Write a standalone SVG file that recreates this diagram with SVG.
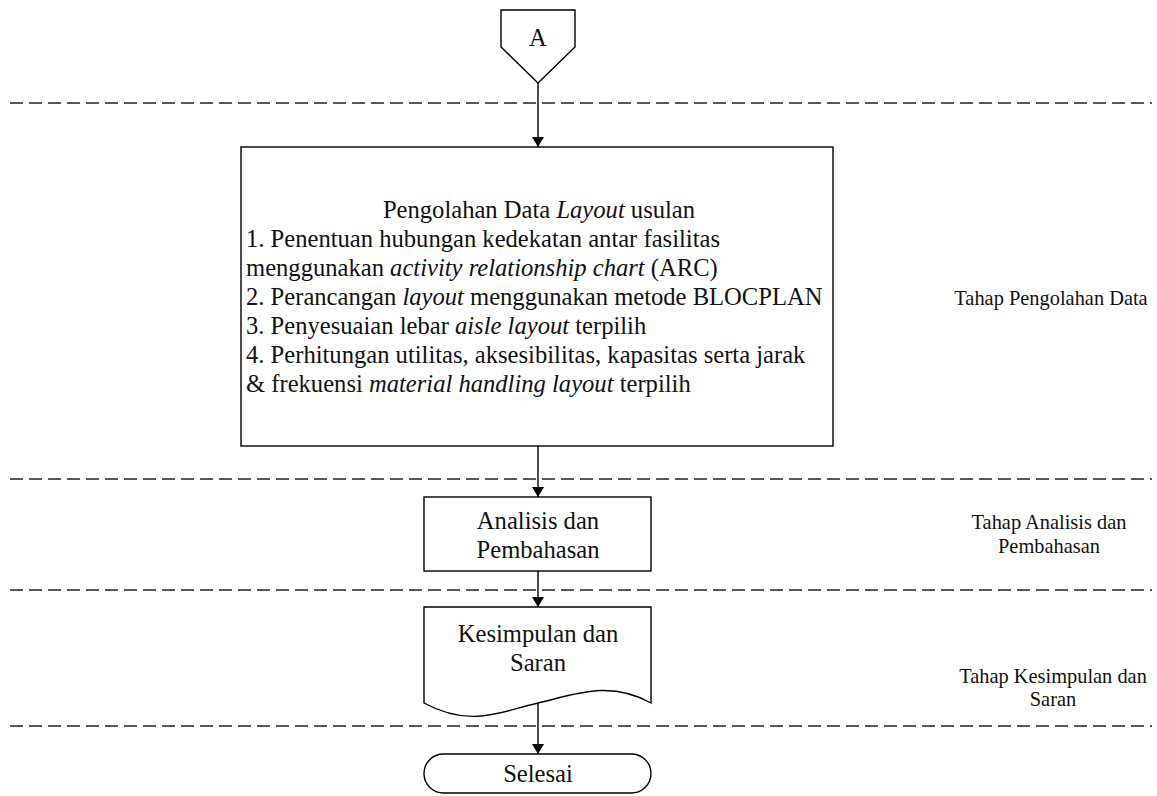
<svg xmlns="http://www.w3.org/2000/svg" width="1157" height="796" viewBox="0 0 1157 796">
<style>
  .shape { fill: #ffffff; stroke: #000000; stroke-width: 1.4; }
  .dash { stroke: #222222; stroke-width: 1.4; stroke-dasharray: 13 6; fill: none; }
  .conn { stroke: #000000; stroke-width: 1.4; fill: none; marker-end: url(#arrow); }
  text { font-family: "Liberation Serif", "Times New Roman", serif; fill: #111111; }
  .main { font-size: 24.6px; }
  .side { font-size: 20.4px; text-anchor: middle; }
  .mid { text-anchor: middle; }
  .it { font-style: italic; }
</style>
<defs>
  <marker id="arrow" viewBox="0 0 10 12" refX="10" refY="6" markerWidth="10" markerHeight="12" markerUnits="userSpaceOnUse" orient="auto">
    <path d="M0,0 L10,6 L0,12 Z" fill="#000000"/>
  </marker>
</defs>
<rect width="1157" height="796" fill="#ffffff"/>

<g id="swimlane-dividers">
  <line class="dash" x1="10" y1="103" x2="1152" y2="103"/>
  <line class="dash" x1="10" y1="479" x2="1152" y2="479"/>
  <line class="dash" x1="10" y1="590" x2="1152" y2="590"/>
  <line class="dash" x1="10" y1="726" x2="1152" y2="726"/>
</g>

<g id="connectors">
  <line class="conn" x1="538" y1="83" x2="538" y2="147"/>
  <line class="conn" x1="538" y1="446" x2="538" y2="497"/>
  <line class="conn" x1="538" y1="571" x2="538" y2="607"/>
  <line class="conn" x1="538" y1="703" x2="538" y2="754"/>
</g>

<g id="node-A">
  <path class="shape" d="M501,10 L575,10 L575,47 L538,83 L501,47 Z"/>
  <text class="main mid" x="538" y="46">A</text>
</g>

<g id="node-pengolahan">
  <rect class="shape" x="241" y="147" width="592" height="299"/>
  <text class="main mid" x="539" y="217.5">Pengolahan Data <tspan class="it">Layout</tspan> usulan</text>
  <text class="main" x="246" y="246.6">1. Penentuan hubungan kedekatan antar fasilitas</text>
  <text class="main" x="246" y="275.7">menggunakan <tspan class="it">activity relationship chart</tspan> (ARC)</text>
  <text class="main" x="246" y="304.8">2. Perancangan <tspan class="it">layout</tspan> menggunakan metode BLOCPLAN</text>
  <text class="main" x="246" y="333.9">3. Penyesuaian lebar <tspan class="it">aisle layout</tspan> terpilih</text>
  <text class="main" x="246" y="363">4. Perhitungan utilitas, aksesibilitas, kapasitas serta jarak</text>
  <text class="main" x="246" y="392.1">&amp; frekuensi <tspan class="it">material handling layout</tspan> terpilih</text>
</g>

<g id="node-analisis">
  <rect class="shape" x="424" y="497" width="227" height="74"/>
  <text class="main mid" x="538" y="528.5">Analisis dan</text>
  <text class="main mid" x="538" y="557.5">Pembahasan</text>
</g>

<g id="node-kesimpulan">
  <path class="shape" d="M424,607 L651,607 L651,703 C610,680 576,694 538,703 C500,712 470,728 424,703 Z"/>
  <text class="main mid" x="538" y="642">Kesimpulan dan</text>
  <text class="main mid" x="538" y="671">Saran</text>
</g>

<g id="node-selesai">
  <rect class="shape" x="424" y="754" width="227" height="39" rx="19.5" ry="19.5"/>
  <text class="main mid" x="538" y="782">Selesai</text>
</g>

<g id="stage-labels">
  <text class="side" x="1051" y="305">Tahap Pengolahan Data</text>
  <text class="side" x="1049" y="529">Tahap Analisis dan</text>
  <text class="side" x="1049" y="552.5">Pembahasan</text>
  <text class="side" x="1053" y="682.5">Tahap Kesimpulan dan</text>
  <text class="side" x="1053" y="705.5">Saran</text>
</g>
</svg>
